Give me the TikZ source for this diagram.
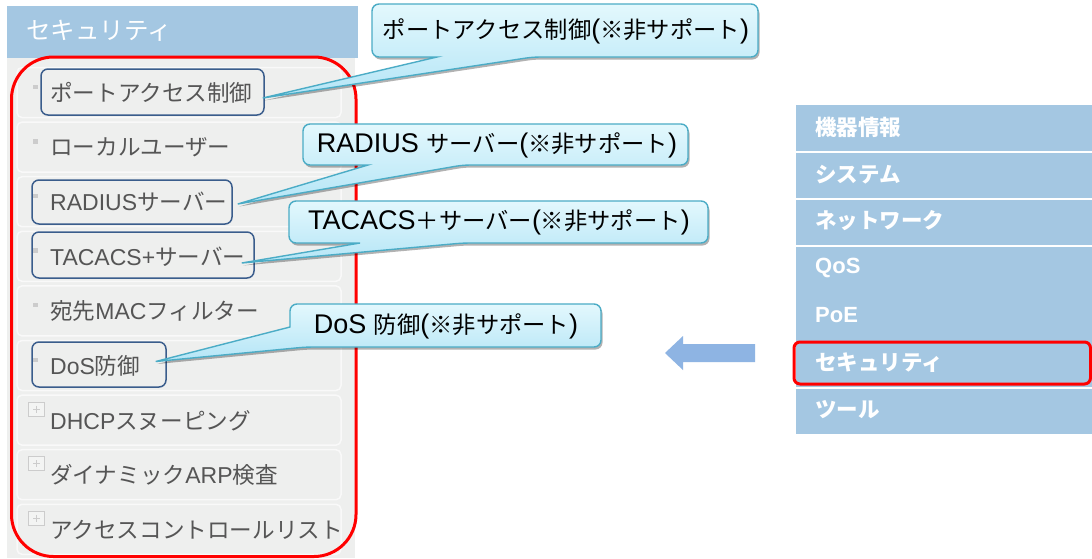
\documentclass[tikz,border=0pt]{standalone}
\usepackage{fontspec}
\setmainfont{Liberation Sans}
\newfontfamily\cjk{Noto Sans CJK JP}
\def\cjksz{22}
\newcommand\J[1]{{\cjk\fontsize{\cjksz}{\cjksz}\selectfont #1}}
\usetikzlibrary{shadows}
\definecolor{hdrblue}{HTML}{A4C7E2}
\definecolor{panelgray}{HTML}{EEEFEE}
\definecolor{rowline}{HTML}{F9F9F9}
\definecolor{itemtxt}{HTML}{555555}
\definecolor{hlblue}{HTML}{3A5D8C}
\definecolor{callborder}{HTML}{4BACC6}
\definecolor{calltop}{HTML}{E3F8FD}
\definecolor{callbot}{HTML}{B4E5F6}
\definecolor{arrowblue}{HTML}{8EB4E3}
\definecolor{bulletgray}{HTML}{CCCCCC}
\tikzset{
  rowbox/.style={draw=rowline, line width=1.5, fill=panelgray, rounded corners=5},
  itemtext/.style={anchor=west, inner sep=0, text=itemtxt, font=\def\cjksz{22.6}\fontsize{23}{26}\selectfont},
  hlbox/.style={draw=hlblue, line width=1.5, rounded corners=7, inner sep=0},
  callshape/.style={draw=callborder, line width=1.4, top color=calltop, bottom color=callbot, rounded corners=7,
     drop shadow={shadow xshift=1.5pt, shadow yshift=-2.5pt, opacity=0.3, fill=black}},
  calltext/.style={inner sep=0, text=black, font=\def\cjksz{23.3}\fontsize{27}{30}\selectfont},
  menutext/.style={anchor=west, inner sep=0, text=white, font=\def\cjksz{21.5}\fontsize{22}{25}\selectfont\bfseries},
  redbox/.style={draw=red, line width=3},
  sepline/.style={draw=white, line width=2},
}
\begin{document}
\begin{tikzpicture}[x=1pt,y=-1pt]
\useasboundingbox[fill=white] (0,0) rectangle (1092,558);
% left panel
\fill[panelgray] (7,58) rectangle (355,558);
\fill[hdrblue] (7,6) rectangle (358,58);
\node[anchor=west, inner sep=0, text=white, font=\def\cjksz{24.5}] (hdr) at (26,31) {\J{セキュリティ}};
\foreach \i in {0,...,8} {
  \pgfmathsetmacro\cy{92.5+54.6*\i}
  \path[rowbox] (17,\cy-25) rectangle (341,\cy+25);
}
\foreach \i in {0,...,5} {
  \pgfmathsetmacro\cy{92.5+54.6*\i}
  \fill[bulletgray] (33,\cy-8) rectangle (37.5,\cy-3.5);
}
\foreach \i in {6,7,8} {
  \pgfmathsetmacro\cy{92.5+54.6*\i}
  \draw[bulletgray, fill=panelgray!70!white, line width=0.8] (28.5,\cy-18) rectangle (44,\cy-4);
  \draw[bulletgray, line width=1] (33,\cy-11) -- (39.5,\cy-11) (36.25,\cy-14.5) -- (36.25,\cy-7.5);
}
\node[itemtext] (m1) at (50,93) {\J{ポートアクセス制御}};
\node[itemtext] (m2) at (50,147.6) {\J{ローカルユーザー}};
\node[itemtext] (m3) at (50,202.2) {RADIUS\J{サーバー}};
\node[itemtext] (m4) at (50,256.8) {TACACS+\J{サーバー}};
\node[itemtext] (m5) at (50,311.4) {\J{宛先}MAC\J{フィルター}};
\node[itemtext] (m6) at (50,366) {DoS\J{防御}};
\node[itemtext] (m7) at (50,420.6) {DHCP\J{スヌーピング}};
\node[itemtext] (m8) at (50,475.2) {\J{ダイナミック}ARP\J{検査}};
\node[itemtext] (m9) at (50,529.8) {\J{アクセスコントロールリスト}};
% highlight boxes
\node[hlbox, minimum width=223, minimum height=46] (hl1) at (152.5,92) {};
\node[hlbox, minimum width=200, minimum height=44] (hl3) at (132,202) {};
\node[hlbox, minimum width=222, minimum height=46] (hl4) at (143,255) {};
\node[hlbox, minimum width=134, minimum height=45] (hl6) at (99,364.5) {};
% red frame
\draw[redbox, rounded corners=42] (11.5,57) rectangle (356,556.5);
% pointer tips
\coordinate (t1) at ([shift={(-2,6)}]hl1.east);
\coordinate (t3) at ([shift={(5,2)}]hl3.east);
\coordinate (t4) at ([shift={(-13,8)}]hl4.east);
\coordinate (t6) at ([shift={(-11,-3)}]hl6.east);
% callouts
\path[callshape] (565,4) -- (758,4) -- (758,57) -- (533,57) [sharp corners] -- (t1) -- (437,57) [rounded corners=7] -- (372,57) -- (372,4) -- cycle;
\node[calltext] (c1) at (566,31) {\J{ポートアクセス制御}(\J{※非サポート})};
\path[callshape] (495,124) -- (688,124) -- (688,165) -- (463,165) [sharp corners] -- (t3) -- (368,165) [rounded corners=7] -- (303,165) -- (303,124) -- cycle;
\node[calltext] (c3) at (497,145) {RADIUS \J{サーバー}(\J{※非サポート})};
\path[callshape] (498,201) -- (708,201) -- (708,243) -- (463,243) [sharp corners] -- (t4) -- (360,243) [rounded corners=7] -- (289,243) -- (289,201) -- cycle;
\node[calltext] (c4) at (499,222) {TACACS\J{＋サーバー}(\J{※非サポート})};
\path[callshape] (445,304) -- (601,304) -- (601,347) -- (306,347) [sharp corners] -- (t6) -- (290,327) [rounded corners=7] -- (290,304) -- cycle;
\node[calltext] (c6) at (446,326) {DoS \J{防御}(\J{※非サポート})};
% arrow
\fill[arrowblue] (665,353) -- (683,336) -- (683,344) -- (755,344) -- (755,362) -- (683,362) -- (683,370) -- cycle;
% right menu
\fill[hdrblue] (796,105) rectangle (1092,434);
\foreach \yy in {152,199,246,388} { \draw[sepline] (796,\yy) -- (1092,\yy); }
\node[menutext] (r1) at (815,127) {\J{機器情報}};
\node[menutext] (r2) at (815,175) {\J{システム}};
\node[menutext] (r3) at (815,221) {\J{ネットワーク}};
\node[menutext] (r4) at (815,268) {QoS};
\node[menutext] (r5) at (815,315) {PoE};
\node[menutext] (r6) at (815,363) {\J{セキュリティ}};
\node[menutext] (r7) at (815,410) {\J{ツール}};
\draw[redbox, rounded corners=6] (794,342) rectangle (1090.5,384);
\end{tikzpicture}
\end{document}
